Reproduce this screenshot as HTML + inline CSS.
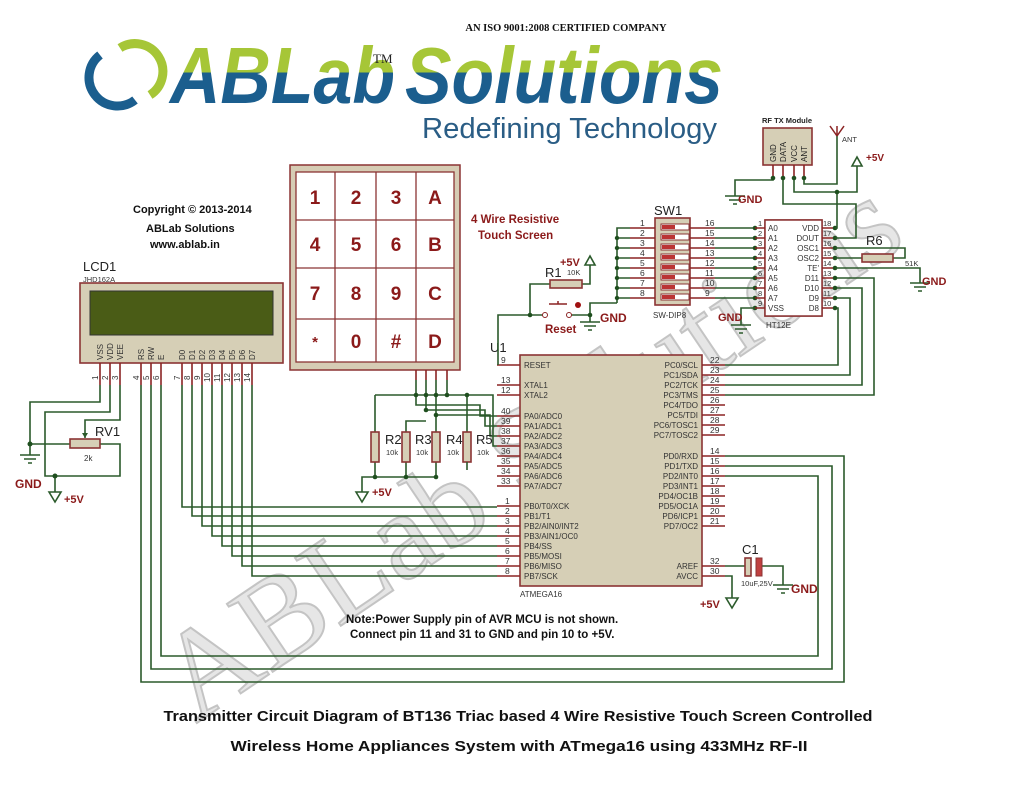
<!DOCTYPE html>
<html><head><meta charset="utf-8"><style>
html,body{margin:0;padding:0;background:#fff}
svg{display:block;font-family:"Liberation Sans",sans-serif}
.w{stroke:#2b5a2b;stroke-width:1.6;fill:none}
.p{stroke:#8b2424;stroke-width:1.6;fill:none}
.c{fill:#d6cfb6;stroke:#8b3434;stroke-width:1.6}
.t{font-size:8px;fill:#333}
.n{font-size:8.5px;fill:#333}
.lb{font-size:13px;fill:#222}
.r{fill:#8b1a1a;font-weight:bold}
.k{font-size:19px;font-weight:bold;fill:#8b1a1a;text-anchor:middle}
.j{fill:#1f4f1f}
</style></head><body>
<svg width="1024" height="787" viewBox="0 0 1024 787">
<defs>
<linearGradient id="g" gradientUnits="userSpaceOnUse" x1="0" y1="40" x2="0" y2="105">
<stop offset="0" stop-color="#a6c637"/><stop offset="0.5" stop-color="#a6c637"/><stop offset="0.5" stop-color="#1b5e8e"/><stop offset="1" stop-color="#1b5e8e"/>
</linearGradient>
</defs>
<!-- watermark -->
<text x="530" y="490" transform="rotate(-34 530 450)" text-anchor="middle" font-family="Liberation Serif,serif" font-size="125" textLength="860" lengthAdjust="spacingAndGlyphs" fill="#e6e6e6" stroke="#c4c4c4" stroke-width="2">ABLab Solutions</text>

<!-- header -->
<text x="566" y="31" text-anchor="middle" font-family="Liberation Serif,serif" font-weight="bold" font-size="10.5" fill="#111">AN ISO 9001:2008 CERTIFIED COMPANY</text>
<path d="M120 48 A27 27 0 1 1 150 95" stroke="#a6c637" stroke-width="9" fill="none"/>
<path d="M135 100 A27 27 0 0 1 100 55" stroke="#1b5e8e" stroke-width="9" fill="none"/>
<text x="170" y="103" font-size="80" font-weight="bold" font-style="italic" fill="url(#g)" textLength="225" lengthAdjust="spacingAndGlyphs">ABLab</text>
<text x="373" y="63" font-size="13" font-family="Liberation Serif,serif" fill="#222">TM</text>
<text x="405" y="103" font-size="80" font-weight="bold" font-style="italic" fill="url(#g)" textLength="318" lengthAdjust="spacingAndGlyphs">Solutions</text>
<text x="422" y="138" font-size="29" fill="#2a5d85" textLength="295" lengthAdjust="spacingAndGlyphs">Redefining Technology</text>

<!-- copyright -->
<text x="133" y="213" font-size="11" font-weight="bold" fill="#111">Copyright © 2013-2014</text>
<text x="146" y="232" font-size="11" font-weight="bold" fill="#111">ABLab Solutions</text>
<text x="150" y="248" font-size="11" font-weight="bold" fill="#111">www.ablab.in</text>
<text x="471" y="223" font-size="11.5" class="r">4 Wire Resistive</text>
<text x="478" y="239" font-size="11.5" class="r">Touch Screen</text>

<!-- LCD -->
<text x="83" y="271" class="lb">LCD1</text>
<text x="83" y="282" font-size="7.5" fill="#333">JHD162A</text>
<rect x="80" y="283" width="203" height="80" class="c"/>
<rect x="90" y="291" width="183" height="44" fill="#4a5c16" stroke="#333" stroke-width="1"/>
<g class="t">
<text transform="translate(103 360) rotate(-90)">VSS</text>
<text transform="translate(113 360) rotate(-90)">VDD</text>
<text transform="translate(123 360) rotate(-90)">VEE</text>
<text transform="translate(144 360) rotate(-90)">RS</text>
<text transform="translate(154 360) rotate(-90)">RW</text>
<text transform="translate(164 360) rotate(-90)">E</text>
<text transform="translate(185 360) rotate(-90)">D0</text>
<text transform="translate(195 360) rotate(-90)">D1</text>
<text transform="translate(205 360) rotate(-90)">D2</text>
<text transform="translate(215 360) rotate(-90)">D3</text>
<text transform="translate(225 360) rotate(-90)">D4</text>
<text transform="translate(235 360) rotate(-90)">D5</text>
<text transform="translate(245 360) rotate(-90)">D6</text>
<text transform="translate(255 360) rotate(-90)">D7</text>
<text transform="translate(98 380) rotate(-90)">1</text>
<text transform="translate(108 380) rotate(-90)">2</text>
<text transform="translate(118 380) rotate(-90)">3</text>
<text transform="translate(139 380) rotate(-90)">4</text>
<text transform="translate(149 380) rotate(-90)">5</text>
<text transform="translate(159 380) rotate(-90)">6</text>
<text transform="translate(180 380) rotate(-90)">7</text>
<text transform="translate(190 380) rotate(-90)">8</text>
<text transform="translate(200 380) rotate(-90)">9</text>
<text transform="translate(210 382) rotate(-90)">10</text>
<text transform="translate(220 382) rotate(-90)">11</text>
<text transform="translate(230 382) rotate(-90)">12</text>
<text transform="translate(240 382) rotate(-90)">13</text>
<text transform="translate(250 382) rotate(-90)">14</text>
</g>
<path class="p" d="M100 363V385M110 363V385M120 363V385M141 363V385M151 363V385M161 363V385M182 363V385M192 363V385M202 363V385M212 363V385M222 363V385M232 363V385M242 363V385M252 363V385"/>
<!-- LCD left wiring -->
<path class="w" d="M100 385V402H30V455M30 444H70M100 444H120V476H45V412H110V385M120 385V420H85V438M55 476V492"/>
<circle cx="30" cy="444" r="2.5" class="j"/><circle cx="55" cy="476" r="2.5" class="j"/>
<path class="w" d="M20 455H40M24 459H36M28 463H32"/>
<path class="w" d="M49 492L55 502L61 492Z"/>
<path d="M85 438l-3-5h6z" fill="#2b5a2b"/>
<rect x="70" y="439" width="30" height="9" class="c"/>
<text x="95" y="436" class="lb">RV1</text>
<text x="84" y="461" font-size="8" fill="#333">2k</text>
<text x="15" y="488" font-size="12" class="r">GND</text>
<text x="64" y="503" font-size="11" class="r">+5V</text>
<!-- LCD data lines -->
<path class="w" d="M182 385V507H497M192 385V516H497M202 385V526H497M212 385V536H497M222 385V546H497M232 385V556H497M242 385V566H497M252 385V576H497"/>
<path class="w" d="M141 385V682H844V456H725M151 385V669H832V466H725M161 385V656H818V476H725"/>

<!-- Keypad -->
<rect x="290" y="165" width="170" height="205" fill="#d6ccb4" stroke="#8b3434" stroke-width="1.5"/>
<rect x="296" y="172" width="158" height="190" fill="#fff" stroke="#8b3434" stroke-width="1.3"/>
<path stroke="#8b3434" stroke-width="1.3" d="M335 172V362M376 172V362M416 172V362M296 220H454M296 268H454M296 319H454"/>
<g class="k">
<text x="315" y="204">1</text><text x="356" y="204">2</text><text x="396" y="204">3</text><text x="435" y="204">A</text>
<text x="315" y="251">4</text><text x="356" y="251">5</text><text x="396" y="251">6</text><text x="435" y="251">B</text>
<text x="315" y="300">7</text><text x="356" y="300">8</text><text x="396" y="300">9</text><text x="435" y="300">C</text>
<text x="315" y="347" font-size="15">*</text><text x="356" y="348">0</text><text x="396" y="348">#</text><text x="435" y="348">D</text>
</g>
<path class="p" d="M416 370V380M426 370V380M436 370V380M447 370V380"/>
<path class="w" d="M416 380V405H480V416H497M426 380V410H485V426H497M436 380V415H490V436H497M447 380V395H493V446H497M375 395H467V432M375 432V395M406 432V421H426M436 432V415M362 492V477H436V462M375 462V477M406 462V477"/>
<g class="j"><circle cx="416" cy="395" r="2.3"/><circle cx="426" cy="395" r="2.3"/><circle cx="436" cy="395" r="2.3"/><circle cx="447" cy="395" r="2.3"/><circle cx="467" cy="395" r="2.3"/><circle cx="426" cy="410" r="2.3"/><circle cx="436" cy="415" r="2.3"/><circle cx="375" cy="477" r="2.3"/><circle cx="406" cy="477" r="2.3"/><circle cx="436" cy="477" r="2.3"/></g>
<rect x="371" y="432" width="8" height="30" class="c"/><rect x="402" y="432" width="8" height="30" class="c"/><rect x="432" y="432" width="8" height="30" class="c"/><rect x="463" y="432" width="8" height="30" class="c"/>
<path class="w" d="M467 462V470"/>
<g class="lb"><text x="385" y="444">R2</text><text x="415" y="444">R3</text><text x="446" y="444">R4</text><text x="476" y="444">R5</text></g>
<g font-size="7.5" fill="#333"><text x="386" y="455">10k</text><text x="416" y="455">10k</text><text x="447" y="455">10k</text><text x="477" y="455">10k</text></g>
<path class="w" d="M356 492L362 502L368 492Z"/>
<text x="372" y="496" font-size="11" class="r">+5V</text>

<!-- U1 -->
<text x="490" y="352" class="lb">U1</text>
<rect x="520" y="355" width="182" height="231" class="c"/>
<text x="520" y="597" font-size="8" fill="#333">ATMEGA16</text>
<path class="p" d="M497 365H520M497 385H520M497 395H520M497 416H520M497 426H520M497 436H520M497 446H520M497 456H520M497 466H520M497 476H520M497 486H520M497 506H520M497 516H520M497 526H520M497 536H520M497 546H520M497 556H520M497 566H520M497 576H520M702 365H725M702 375H725M702 385H725M702 395H725M702 405H725M702 415H725M702 425H725M702 435H725M702 456H725M702 466H725M702 476H725M702 486H725M702 496H725M702 506H725M702 516H725M702 526H725M702 566H725M702 576H725"/>
<g class="n">
<text x="501" y="363">9</text><text x="501" y="383">13</text><text x="501" y="393">12</text><text x="501" y="414">40</text><text x="501" y="424">39</text><text x="501" y="434">38</text><text x="501" y="444">37</text><text x="501" y="454">36</text><text x="501" y="464">35</text><text x="501" y="474">34</text><text x="501" y="484">33</text>
<text x="505" y="504">1</text><text x="505" y="514">2</text><text x="505" y="524">3</text><text x="505" y="534">4</text><text x="505" y="544">5</text><text x="505" y="554">6</text><text x="505" y="564">7</text><text x="505" y="574">8</text>
<text x="710" y="363">22</text><text x="710" y="373">23</text><text x="710" y="383">24</text><text x="710" y="393">25</text><text x="710" y="403">26</text><text x="710" y="413">27</text><text x="710" y="423">28</text><text x="710" y="433">29</text>
<text x="710" y="454">14</text><text x="710" y="464">15</text><text x="710" y="474">16</text><text x="710" y="484">17</text><text x="710" y="494">18</text><text x="710" y="504">19</text><text x="710" y="514">20</text><text x="710" y="524">21</text><text x="710" y="564">32</text><text x="710" y="574">30</text>
</g>
<g font-size="8" fill="#333">
<text x="524" y="368">RESET</text><text x="524" y="388">XTAL1</text><text x="524" y="398">XTAL2</text>
<text x="524" y="419">PA0/ADC0</text><text x="524" y="429">PA1/ADC1</text><text x="524" y="439">PA2/ADC2</text><text x="524" y="449">PA3/ADC3</text><text x="524" y="459">PA4/ADC4</text><text x="524" y="469">PA5/ADC5</text><text x="524" y="479">PA6/ADC6</text><text x="524" y="489">PA7/ADC7</text>
<text x="524" y="509">PB0/T0/XCK</text><text x="524" y="519">PB1/T1</text><text x="524" y="529">PB2/AIN0/INT2</text><text x="524" y="539">PB3/AIN1/OC0</text><text x="524" y="549">PB4/SS</text><text x="524" y="559">PB5/MOSI</text><text x="524" y="569">PB6/MISO</text><text x="524" y="579">PB7/SCK</text>
</g>
<g font-size="8" fill="#333" text-anchor="end">
<text x="698" y="368">PC0/SCL</text><text x="698" y="378">PC1/SDA</text><text x="698" y="388">PC2/TCK</text><text x="698" y="398">PC3/TMS</text><text x="698" y="408">PC4/TDO</text><text x="698" y="418">PC5/TDI</text><text x="698" y="428">PC6/TOSC1</text><text x="698" y="438">PC7/TOSC2</text>
<text x="698" y="459">PD0/RXD</text><text x="698" y="469">PD1/TXD</text><text x="698" y="479">PD2/INT0</text><text x="698" y="489">PD3/INT1</text><text x="698" y="499">PD4/OC1B</text><text x="698" y="509">PD5/OC1A</text><text x="698" y="519">PD6/ICP1</text><text x="698" y="529">PD7/OC2</text>
<text x="698" y="569">AREF</text><text x="698" y="579">AVCC</text>
</g>
<!-- PC to HT12E -->
<path class="w" d="M725 365H838V308H835M725 375H850V298H835M725 385H862V288H835M725 395H874V278H835"/>
<!-- C1 -->
<path class="w" d="M725 566H745M761 566H783V585M725 576H732V598"/>
<rect x="745" y="558" width="6" height="18" class="c"/>
<rect x="756" y="558" width="6" height="18" fill="#c04040" stroke="#8b3434"/>
<text x="742" y="554" class="lb">C1</text>
<text x="741" y="586" font-size="7.5" fill="#333">10uF,25V</text>
<path class="w" d="M773 585H793M777 589H789M781 593H785M726 598L732 608L738 598Z"/>
<text x="791" y="593" font-size="12" class="r">GND</text>
<text x="700" y="608" font-size="11" class="r">+5V</text>

<!-- Reset / R1 -->
<path class="w" d="M550 284H530V315H498V365M530 315H543M571 315H590V303H617M582 284H590V265M590 315V322"/>
<circle cx="530" cy="315" r="2.3" class="j"/><circle cx="590" cy="315" r="2.3" class="j"/>
<circle cx="545" cy="315" r="2.5" fill="#fff" stroke="#8b2424"/><circle cx="569" cy="315" r="2.5" fill="#fff" stroke="#8b2424"/>
<path stroke="#8b2424" stroke-width="1.5" d="M549 304H567M558 304V301"/>
<circle cx="578" cy="305" r="3" fill="#a01010"/>
<rect x="550" y="280" width="32" height="8" class="c"/>
<text x="545" y="277" class="lb">R1</text>
<text x="567" y="275" font-size="7.5" fill="#333">10K</text>
<path class="w" d="M585 265L590 256L595 265Z"/>
<text x="560" y="266" font-size="11" class="r">+5V</text>
<path class="w" d="M580 322H600M584 326H596M588 330H592"/>
<text x="545" y="333" font-size="11.5" class="r">Reset</text>
<text x="600" y="322" font-size="12" class="r">GND</text>

<!-- SW1 -->
<text x="654" y="215" class="lb">SW1</text>
<rect x="655" y="218" width="35" height="87" class="c"/>
<g fill="#fff" stroke="#8b3434" stroke-width="1">
<rect x="661" y="224" width="28" height="6"/><rect x="661" y="234" width="28" height="6"/><rect x="661" y="244" width="28" height="6"/><rect x="661" y="254" width="28" height="6"/><rect x="661" y="264" width="28" height="6"/><rect x="661" y="274" width="28" height="6"/><rect x="661" y="284" width="28" height="6"/><rect x="661" y="294" width="28" height="6"/>
</g>
<g fill="#b33">
<rect x="662" y="225" width="13" height="4"/><rect x="662" y="235" width="13" height="4"/><rect x="662" y="245" width="13" height="4"/><rect x="662" y="255" width="13" height="4"/><rect x="662" y="265" width="13" height="4"/><rect x="662" y="275" width="13" height="4"/><rect x="662" y="285" width="13" height="4"/><rect x="662" y="295" width="13" height="4"/>
</g>
<text x="653" y="318" font-size="8" fill="#333">SW-DIP8</text>
<path class="p" d="M630 228H655M630 238H655M630 248H655M630 258H655M630 268H655M630 278H655M630 288H655M630 298H655M690 228H715M690 238H715M690 248H715M690 258H715M690 268H715M690 278H715M690 288H715M690 298H715"/>
<path class="w" d="M630 228H617V303M617 238H630M617 248H630M617 258H630M617 268H630M617 278H630M617 288H630M617 298H630M715 228H755M715 238H755M715 248H755M715 258H755M715 268H755M715 278H755M715 288H755M715 298H755"/>
<g class="j"><circle cx="617" cy="238" r="2.2"/><circle cx="617" cy="248" r="2.2"/><circle cx="617" cy="258" r="2.2"/><circle cx="617" cy="268" r="2.2"/><circle cx="617" cy="278" r="2.2"/><circle cx="617" cy="288" r="2.2"/><circle cx="617" cy="298" r="2.2"/>
<circle cx="755" cy="228" r="2.3"/><circle cx="755" cy="238" r="2.3"/><circle cx="755" cy="248" r="2.3"/><circle cx="755" cy="258" r="2.3"/><circle cx="755" cy="268" r="2.3"/><circle cx="755" cy="278" r="2.3"/><circle cx="755" cy="288" r="2.3"/><circle cx="755" cy="298" r="2.3"/><circle cx="755" cy="308" r="2.3"/></g>
<g class="n">
<text x="640" y="226">1</text><text x="640" y="236">2</text><text x="640" y="246">3</text><text x="640" y="256">4</text><text x="640" y="266">5</text><text x="640" y="276">6</text><text x="640" y="286">7</text><text x="640" y="296">8</text>
<text x="705" y="226">16</text><text x="705" y="236">15</text><text x="705" y="246">14</text><text x="705" y="256">13</text><text x="705" y="266">12</text><text x="705" y="276">11</text><text x="705" y="286">10</text><text x="705" y="296">9</text>
</g>

<!-- HT12E -->
<rect x="765" y="220" width="57" height="96" class="c" fill="#fff"/>
<rect x="765" y="220" width="57" height="96" fill="#fff" stroke="#8b3434" stroke-width="1.5"/>
<path class="p" d="M755 228H765M755 238H765M755 248H765M755 258H765M755 268H765M755 278H765M755 288H765M755 298H765M755 308H765M822 228H835M822 238H835M822 248H835M822 258H835M822 268H835M822 278H835M822 288H835M822 298H835M822 308H835"/>
<g font-size="7.5" fill="#333">
<text x="758" y="226">1</text><text x="758" y="236">2</text><text x="758" y="246">3</text><text x="758" y="256">4</text><text x="758" y="266">5</text><text x="758" y="276">6</text><text x="758" y="286">7</text><text x="758" y="296">8</text><text x="758" y="306">9</text>
<text x="823" y="226">18</text><text x="823" y="236">17</text><text x="823" y="246">16</text><text x="823" y="256">15</text><text x="823" y="266">14</text><text x="823" y="276">13</text><text x="823" y="286">12</text><text x="823" y="296">11</text><text x="823" y="306">10</text>
</g>
<g font-size="8" fill="#333">
<text x="768" y="231">A0</text><text x="768" y="241">A1</text><text x="768" y="251">A2</text><text x="768" y="261">A3</text><text x="768" y="271">A4</text><text x="768" y="281">A5</text><text x="768" y="291">A6</text><text x="768" y="301">A7</text><text x="768" y="311">VSS</text>
</g>
<g font-size="8" fill="#333" text-anchor="end">
<text x="819" y="231">VDD</text><text x="819" y="241">DOUT</text><text x="819" y="251">OSC1</text><text x="819" y="261">OSC2</text><text x="819" y="271">TE'</text><text x="819" y="281">D11</text><text x="819" y="291">D10</text><text x="819" y="301">D9</text><text x="819" y="311">D8</text>
</g>
<text x="766" y="328" font-size="8" fill="#333">HT12E</text>
<path class="w" d="M755 308H741V325M731 325H751M735 329H747M739 333H743"/>
<text x="718" y="321" font-size="11" class="r">GND</text>
<g class="j"><circle cx="835" cy="228" r="2.3"/><circle cx="835" cy="238" r="2.3"/><circle cx="835" cy="248" r="2.3"/><circle cx="835" cy="258" r="2.3"/><circle cx="835" cy="268" r="2.3"/><circle cx="835" cy="278" r="2.3"/><circle cx="835" cy="288" r="2.3"/><circle cx="835" cy="298" r="2.3"/><circle cx="835" cy="308" r="2.3"/></g>
<!-- R6 -->
<path class="w" d="M835 248H905V258H893M835 258H862M835 268H920V283M910 283H930M914 287H926M918 291H922"/>
<rect x="862" y="254" width="31" height="8" class="c"/>
<text x="866" y="245" class="lb">R6</text>
<text x="905" y="266" font-size="7.5" fill="#333">51K</text>
<text x="922" y="285" font-size="11" class="r">GND</text>

<!-- RF module -->
<text x="762" y="123" font-size="7.5" font-weight="bold" fill="#222">RF TX Module</text>
<rect x="763" y="128" width="49" height="37" class="c"/>
<g font-size="8" fill="#222">
<text transform="translate(776 162) rotate(-90)">GND</text>
<text transform="translate(786 162) rotate(-90)">DATA</text>
<text transform="translate(797 162) rotate(-90)">VCC</text>
<text transform="translate(807 162) rotate(-90)">ANT</text>
</g>
<path class="p" d="M773 165V178M783 165V178M794 165V178M804 165V178"/>
<path class="w" d="M773 178V180H735V196M725 196H745M729 200H741M733 204H737M783 178V204H856V238H835M794 178V192H857V166M804 178V184H837V136M837 192V228H835"/>
<g class="j"><circle cx="773" cy="178" r="2.3"/><circle cx="783" cy="178" r="2.3"/><circle cx="794" cy="178" r="2.3"/><circle cx="804" cy="178" r="2.3"/><circle cx="837" cy="192" r="2.3"/></g>
<path stroke="#8b2424" stroke-width="1.5" fill="none" d="M837 136L830 126M837 136L844 126M837 136V126"/>
<text x="842" y="142" font-size="7.5" fill="#333">ANT</text>
<path class="w" d="M852 166L857 157L862 166Z"/>
<text x="866" y="161" font-size="10" class="r">+5V</text>
<text x="738" y="203" font-size="11" class="r">GND</text>

<!-- notes -->
<text x="346" y="623" font-size="11.5" font-weight="bold" fill="#111">Note:Power Supply pin of AVR MCU is not shown.</text>
<text x="350" y="638" font-size="11.5" font-weight="bold" fill="#111">Connect pin 11 and 31 to GND and pin 10 to +5V.</text>
<text x="518" y="721" text-anchor="middle" font-size="14.5" font-weight="bold" fill="#111" textLength="709" lengthAdjust="spacingAndGlyphs">Transmitter Circuit Diagram of BT136 Triac based 4 Wire Resistive Touch Screen Controlled</text>
<text x="519" y="751" text-anchor="middle" font-size="14.5" font-weight="bold" fill="#111" textLength="577" lengthAdjust="spacingAndGlyphs">Wireless Home Appliances System with ATmega16 using 433MHz RF-II</text>
</svg>
</body></html>
